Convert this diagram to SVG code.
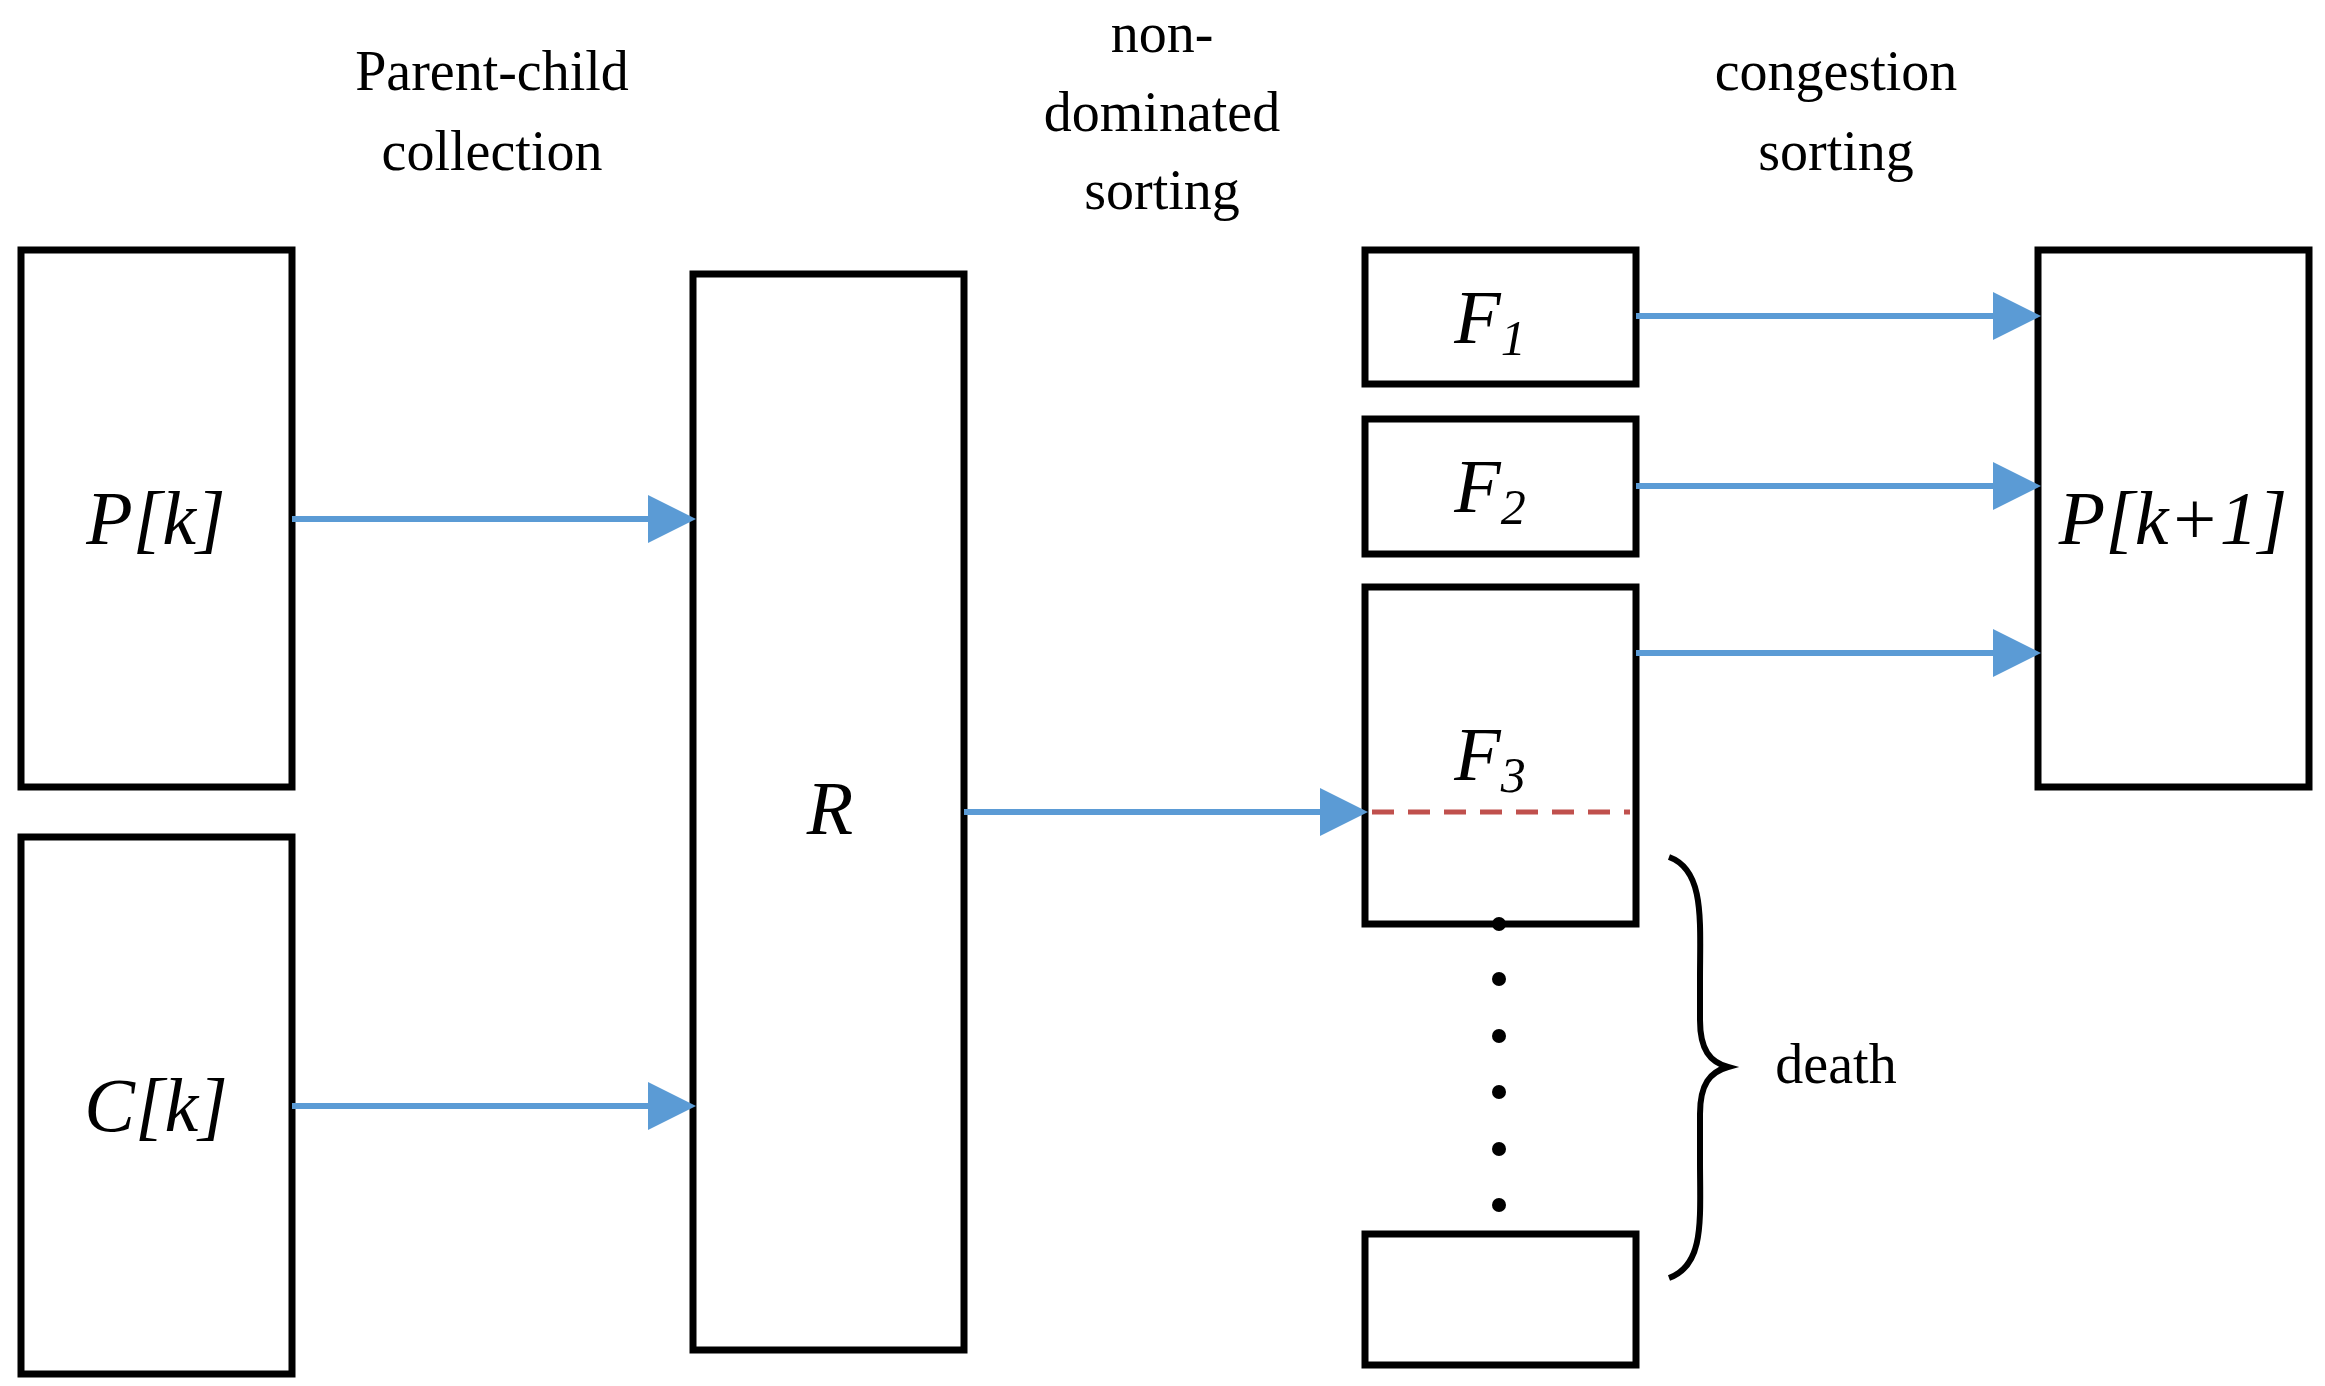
<svg xmlns="http://www.w3.org/2000/svg" width="2325" height="1386" viewBox="0 0 2325 1386">
<defs>
<marker id="ah" markerWidth="8" markerHeight="8" refX="7" refY="4" orient="auto" markerUnits="strokeWidth"><path d="M0,0 L8,4 L0,8 z" fill="#5b9bd5"/></marker>
<style>
.box{fill:#fff;stroke:#000;stroke-width:7}
.lbl{font-family:"Liberation Serif",serif;font-style:italic;font-size:76px;text-anchor:middle}
.cap{font-family:"Liberation Serif",serif;font-size:56px;text-anchor:middle}
.ar{stroke:#5b9bd5;stroke-width:6;fill:none;marker-end:url(#ah)}
</style>
</defs>
<rect width="2325" height="1386" fill="#fff"/>
<g id="captions">
<text class="cap" x="492" y="90">Parent-child</text>
<text class="cap" x="492" y="170">collection</text>
<text class="cap" x="1162" y="52">non-</text>
<text class="cap" x="1162" y="131">dominated</text>
<text class="cap" x="1162" y="209">sorting</text>
<text class="cap" x="1836" y="90">congestion</text>
<text class="cap" x="1836" y="170">sorting</text>
</g>
<g id="Pk"><rect class="box" x="21" y="250" width="271" height="537"/><text class="lbl" x="156" y="544">P[k]</text></g>
<g id="Ck"><rect class="box" x="21" y="837" width="271" height="537"/><text class="lbl" x="156" y="1131">C[k]</text></g>
<g id="R"><rect class="box" x="693" y="274" width="271" height="1076"/><text class="lbl" x="830" y="834">R</text></g>
<g id="F1"><rect class="box" x="1365" y="250" width="271" height="134"/><text class="lbl" x="1490" y="343">F<tspan font-size="50" dy="12">1</tspan></text></g>
<g id="F2"><rect class="box" x="1365" y="419" width="271" height="135"/><text class="lbl" x="1490" y="512">F<tspan font-size="50" dy="12">2</tspan></text></g>
<g id="F3"><rect class="box" x="1365" y="587" width="271" height="337"/><text class="lbl" x="1490" y="780">F<tspan font-size="50" dy="12">3</tspan></text>
<line x1="1372" y1="812" x2="1630" y2="812" stroke="#c0504d" stroke-width="5" stroke-dasharray="22,14"/></g>
<g id="Fn"><rect class="box" x="1365" y="1234" width="271" height="131"/></g>
<g id="Pk1"><rect class="box" x="2038" y="250" width="271" height="537"/><text class="lbl" x="2173" y="544">P[k+1]</text></g>
<g id="dots" fill="#000">
<circle cx="1499" cy="924" r="7"/><circle cx="1499" cy="979" r="7"/><circle cx="1499" cy="1036" r="7"/><circle cx="1499" cy="1092" r="7"/><circle cx="1499" cy="1149" r="7"/><circle cx="1499" cy="1205" r="7"/>
</g>
<g id="death">
<path d="M1669,857 C1705,870 1700,920 1700,980 L1700,1020 C1700,1050 1710,1062 1728,1067 C1710,1072 1700,1084 1700,1114 L1700,1160 C1700,1220 1705,1265 1669,1278" fill="none" stroke="#000" stroke-width="6"/>
<text class="cap" x="1836" y="1083">death</text>
</g>
<g id="connectors">
<line class="ar" x1="292" y1="519" x2="690" y2="519"/>
<line class="ar" x1="292" y1="1106" x2="690" y2="1106"/>
<line class="ar" x1="964" y1="812" x2="1362" y2="812"/>
<line class="ar" x1="1636" y1="316" x2="2035" y2="316"/>
<line class="ar" x1="1636" y1="486" x2="2035" y2="486"/>
<line class="ar" x1="1636" y1="653" x2="2035" y2="653"/>
</g>
</svg>
